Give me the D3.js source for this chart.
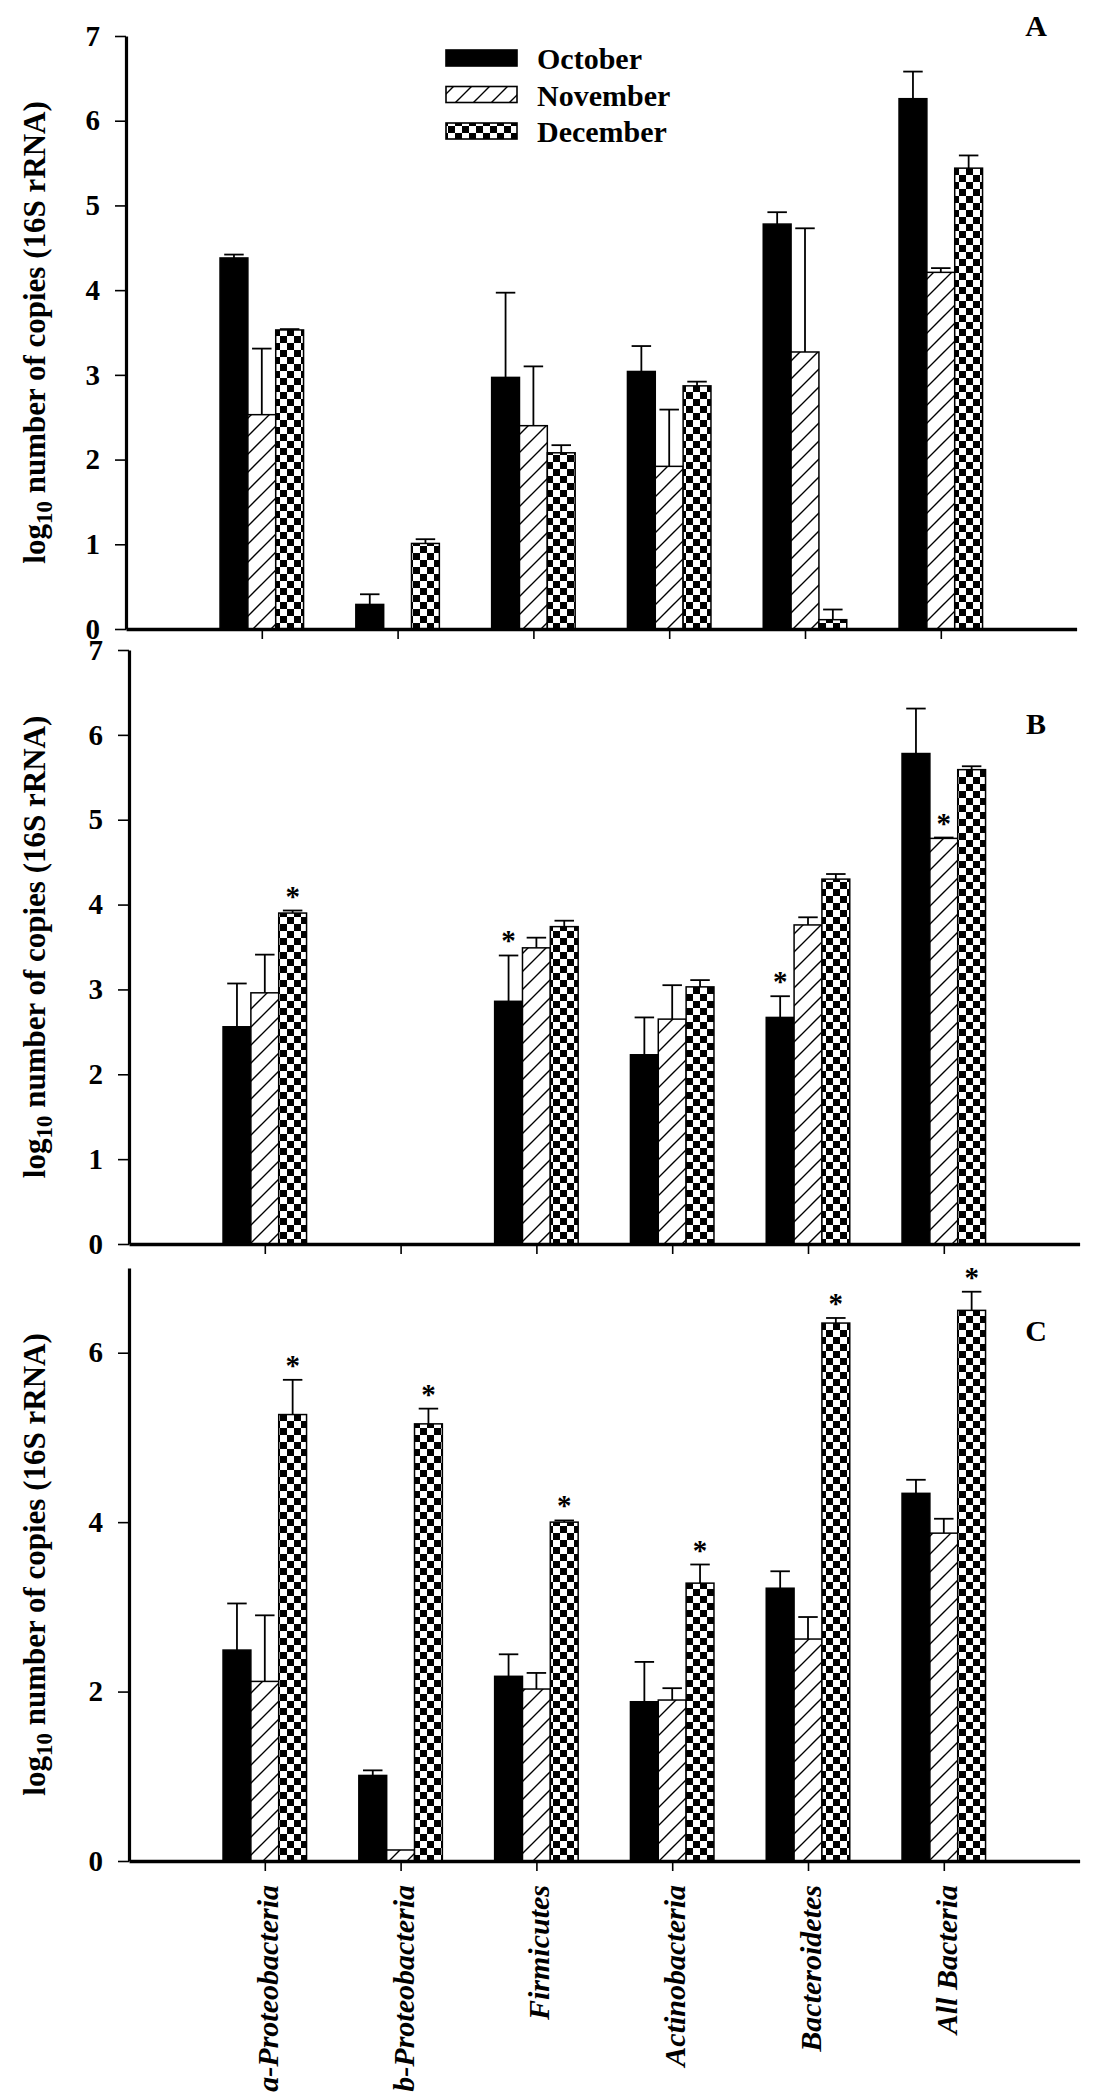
<!DOCTYPE html>
<html>
<head>
<meta charset="utf-8">
<script src="https://cdn.jsdelivr.net/npm/d3@7"></script>
<style>
  body { margin: 0; background: #fff; }
  svg text { font-family: "Liberation Serif", "Times New Roman", serif; font-weight: bold; fill: #000; }
</style>
</head>
<body>
<div id="wrapper"></div>
<script>
// categories + months
const categories = ["a-Proteobacteria", "b-Proteobacteria", "Firmicutes", "Actinobacteria", "Bacteroidetes", "All Bacteria"]
const months = ["October", "November", "December"]

// panel A (means and upper error)
const octA = [4.38, 0.29, 2.97, 3.04, 4.78, 6.26]
const octErrA = [0.04, 0.12, 1.00, 0.30, 0.14, 0.32]
const novA = [2.53, 0, 2.40, 1.92, 3.27, 4.21]
const novErrA = [0.78, 0, 0.70, 0.67, 1.46, 0.05]
const decA = [3.53, 1.01, 2.08, 2.87, 0.11, 5.44]
const decErrA = [0.01, 0.05, 0.09, 0.05, 0.12, 0.15]

// panel B
const octB = [2.56, 0, 2.86, 2.23, 2.67, 5.78]
const octErrB = [0.51, 0, 0.54, 0.44, 0.25, 0.53]
const novB = [2.96, 0, 3.49, 2.65, 3.76, 4.78]
const novErrB = [0.45, 0, 0.12, 0.40, 0.09, 0.01]
const decB = [3.90, 0, 3.74, 3.03, 4.30, 5.59]
const decErrB = [0.03, 0, 0.07, 0.08, 0.06, 0.04]

// panel C
const octC = [2.49, 1.01, 2.18, 1.88, 3.22, 4.34]
const octErrC = [0.55, 0.06, 0.26, 0.47, 0.20, 0.16]
const novC = [2.12, 0.13, 2.03, 1.90, 2.62, 3.87]
const novErrC = [0.78, 0, 0.19, 0.14, 0.26, 0.17]
const decC = [5.27, 5.16, 4.00, 3.28, 6.35, 6.50]
const decErrC = [0.41, 0.18, 0.02, 0.22, 0.06, 0.22]

// significance stars: [category index, month index]
const starsB = [[0, 2], [2, 0], [4, 0], [5, 1]]
const starsC = [[0, 2], [1, 2], [2, 2], [3, 2], [4, 2], [5, 2]]

// y tick values
const ticksAB = [0, 1, 2, 3, 4, 5, 6, 7]
const ticksC = [0, 2, 4, 6]

const panels = [
    {letter: "A", values: [octA, novA, decA], errs: [octErrA, novErrA, decErrA], stars: [], ticks: ticksAB, x0: 126, top: 36, base: 629, letterY: 36},
    {letter: "B", values: [octB, novB, decB], errs: [octErrB, novErrB, decErrB], stars: starsB, ticks: ticksAB, x0: 129, top: 650, base: 1244, letterY: 734},
    {letter: "C", values: [octC, novC, decC], errs: [octErrC, novErrC, decErrC], stars: starsC, ticks: ticksC, x0: 129, top: 1268, base: 1861, letterY: 1341},
]

const fills = ["#000", "url(#hatch)", "url(#checker)"]
const unitW = 135.8
const barW = 0.205

const svg = d3.select("#wrapper").append("svg")
    .attr("width", 1096)
    .attr("height", 2099)

// patterns
const defs = svg.append("defs")
const hatch = defs.append("pattern").attr("id", "hatch")
    .attr("patternUnits", "userSpaceOnUse").attr("width", 18).attr("height", 18)
hatch.append("rect").attr("width", 18).attr("height", 18).attr("fill", "#fff")
hatch.append("path").attr("d", "M0,18 L18,0 M-4.5,4.5 L4.5,-4.5 M13.5,22.5 L22.5,13.5")
    .attr("stroke", "#000").attr("stroke-width", 1.4)
const checker = defs.append("pattern").attr("id", "checker")
    .attr("patternUnits", "userSpaceOnUse").attr("width", 14).attr("height", 14)
checker.append("rect").attr("width", 14).attr("height", 14).attr("fill", "#fff")
checker.append("rect").attr("width", 7).attr("height", 7).attr("fill", "#000")
checker.append("rect").attr("x", 7).attr("y", 7).attr("width", 7).attr("height", 7).attr("fill", "#000")

panels.forEach((p, pi) => {
    const xScale = d3.scaleLinear().domain([0, 7]).range([p.x0, p.x0 + 7 * unitW])
    const yScale = d3.scaleLinear().domain([0, 7]).range([p.base, p.top])
    const g = svg.append("g")
    const bw = xScale(barW) - xScale(0)

    // bars
    months.forEach((m, mi) => {
        const vals = p.values[mi]
        const errs = p.errs[mi]
        const xPos = i => xScale(i + 1 + (mi - 1.5) * barW)
        const groupData = vals.map((v, i) => ({v, e: errs[i], i})).filter(d => d.v > 0)

        // error bars (upper only)
        const eb = g.selectAll(null).data(groupData.filter(d => d.e > 0)).enter().append("g")
        eb.append("line")
            .attr("x1", d => xPos(d.i) + bw / 2)
            .attr("x2", d => xPos(d.i) + bw / 2)
            .attr("y1", d => yScale(d.v))
            .attr("y2", d => yScale(d.v + d.e))
            .attr("stroke", "#000").attr("stroke-width", 1.8)
        eb.append("line")
            .attr("x1", d => xPos(d.i) + bw * 0.15)
            .attr("x2", d => xPos(d.i) + bw * 0.85)
            .attr("y1", d => yScale(d.v + d.e))
            .attr("y2", d => yScale(d.v + d.e))
            .attr("stroke", "#000").attr("stroke-width", 1.8)

        g.selectAll(null).data(groupData).enter().append("rect")
            .attr("x", d => xPos(d.i))
            .attr("y", d => yScale(d.v))
            .attr("width", bw)
            .attr("height", d => yScale(0) - yScale(d.v))
            .attr("fill", fills[mi])
            .attr("stroke", "#000")
            .attr("stroke-width", 1.5)
    })

    // stars
    g.selectAll(null).data(p.stars).enter().append("text")
        .attr("x", d => xScale(d[0] + 1 + (d[1] - 1) * barW))
        .attr("y", d => yScale(p.values[d[1]][d[0]] + p.errs[d[1]][d[0]]) - 5)
        .attr("text-anchor", "middle")
        .style("font-size", "29px")
        .text("*")

    // axes
    const yAxis = g.append("g")
        .attr("transform", `translate(${p.x0},0)`)
        .call(d3.axisLeft(yScale).tickValues(p.ticks).tickFormat(d3.format("d"))
            .tickSize(11).tickSizeOuter(0).tickPadding(15))
    yAxis.select(".domain").attr("stroke-width", 3.2)
    yAxis.selectAll(".tick line").attr("stroke-width", 1.6)
    yAxis.selectAll(".tick text")
        .style("font-family", "'Liberation Serif', 'Times New Roman', serif")
        .style("font-weight", "bold").style("font-size", "29px")

    const xAxis = g.append("g")
        .attr("transform", `translate(0,${p.base})`)
        .call(d3.axisBottom(xScale).tickValues([1, 2, 3, 4, 5, 6]).tickFormat("")
            .tickSize(10).tickSizeOuter(0))
    xAxis.select(".domain").attr("stroke-width", 3.5)
    xAxis.selectAll(".tick line").attr("stroke-width", 1.6)

    // y label
    const ylab = g.append("text")
        .attr("transform", `translate(45,${(p.top + p.base) / 2}) rotate(-90)`)
        .attr("text-anchor", "middle")
        .style("font-size", "31px")
    ylab.append("tspan").text("log")
    ylab.append("tspan").attr("dy", 7).style("font-size", "23px").text("10")
    ylab.append("tspan").attr("dy", -7).text(" number of copies (16S rRNA)")

    // panel letter
    g.append("text")
        .attr("x", 1036).attr("y", p.letterY)
        .attr("text-anchor", "middle")
        .style("font-size", "30px")
        .text(p.letter)

    // category labels under the last panel
    if (pi === panels.length - 1) {
        g.selectAll(null).data(categories).enter().append("text")
            .attr("transform", (d, i) => `translate(${xScale(i + 1) + 13},1885) rotate(-90)`)
            .attr("text-anchor", "end")
            .style("font-size", "30px")
            .style("font-style", "italic")
            .text(d => d)
    }
})

// legend (panel A)
const legend = svg.append("g")
months.forEach((m, mi) => {
    const y = 50 + mi * 36.5
    legend.append("rect")
        .attr("x", 446).attr("y", y)
        .attr("width", 71).attr("height", 16)
        .attr("fill", fills[mi])
        .attr("stroke", "#000").attr("stroke-width", 1.6)
    legend.append("text")
        .attr("x", 537).attr("y", y + 19)
        .style("font-size", "30px")
        .text(m)
})
</script>
</body>
</html>
